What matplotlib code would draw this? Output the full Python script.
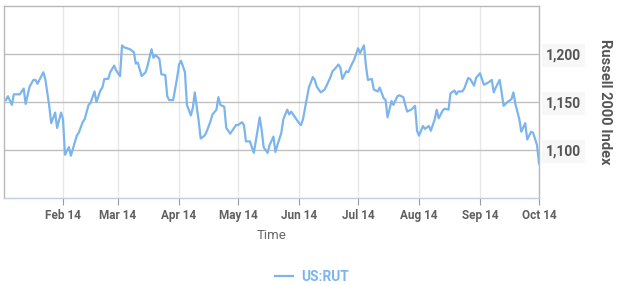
import matplotlib
matplotlib.use("Agg")
import matplotlib.pyplot as plt
import matplotlib.dates as mdates
import numpy as np
import pandas as pd

# day of year 2014 (Jan 1 = 1) and Russell 2000 close
day_of_year = [
    3, 4, 6, 7, 10, 12, 13, 15, 17, 18, 19, 21, 22, 23, 25, 26, 28, 29, 31, 32,
    33, 35, 36, 39, 40, 42, 43, 45, 46, 48, 49, 51, 52, 53, 55, 56, 58, 59, 61, 62,
    63, 66, 68, 69, 70, 72, 74, 75, 77, 78, 79, 81, 82, 84, 85, 86, 88, 90, 91, 92,
    94, 95, 97, 98, 99, 101, 102, 104, 105, 107, 108, 110, 111, 112, 114, 115, 117, 118, 120, 121,
    123, 124, 125, 127, 129, 130, 132, 133, 134, 136, 137, 139, 140, 141, 143, 144, 146, 147, 148, 150,
    152, 153, 154, 156, 157, 159, 160, 161, 163, 165, 166, 168, 169, 170, 172, 173, 174, 176, 177, 179,
    180, 182, 183, 185, 186, 187, 189, 190, 192, 193, 195, 196, 197, 199, 200, 202, 203, 205, 206, 207,
    209, 211, 212, 213, 215, 216, 218, 219, 221, 222, 223, 225, 226, 228, 229, 231, 232, 233, 235, 236,
    238, 239, 241, 242, 244, 245, 246, 248, 250, 251, 252, 254, 255, 256, 258, 260, 261, 262, 264, 265,
    267, 268, 270, 271, 273, 274,
]
rut_close = [
    1152, 1156, 1147, 1158, 1158, 1164, 1148, 1166, 1173, 1173, 1169, 1177, 1181, 1174, 1146, 1128, 1139, 1123, 1139, 1132,
    1095, 1103, 1094, 1115, 1118, 1129, 1132, 1147, 1149, 1161, 1150, 1162, 1165, 1174, 1174, 1181, 1188, 1183, 1177, 1209,
    1207, 1205, 1202, 1190, 1191, 1177, 1181, 1188, 1205, 1196, 1199, 1195, 1179, 1178, 1156, 1152, 1152, 1175, 1189, 1193,
    1181, 1147, 1136, 1144, 1160, 1130, 1112, 1115, 1119, 1130, 1137, 1142, 1155, 1147, 1145, 1123, 1117, 1120, 1126, 1126,
    1129, 1126, 1109, 1109, 1097, 1109, 1134, 1121, 1103, 1097, 1105, 1114, 1098, 1105, 1118, 1132, 1142, 1137, 1140, 1134,
    1128, 1126, 1132, 1154, 1165, 1176, 1173, 1166, 1160, 1163, 1167, 1176, 1182, 1184, 1189, 1186, 1174, 1182, 1181, 1190,
    1194, 1206, 1201, 1209, 1188, 1173, 1174, 1163, 1161, 1165, 1154, 1152, 1134, 1151, 1147, 1156, 1157, 1155, 1147, 1140,
    1142, 1146, 1120, 1115, 1125, 1122, 1125, 1120, 1132, 1142, 1133, 1141, 1143, 1142, 1159, 1162, 1158, 1161, 1161, 1164,
    1175, 1174, 1167, 1175, 1180, 1174, 1168, 1170, 1173, 1160, 1165, 1173, 1160, 1146, 1150, 1153, 1160, 1148, 1132, 1119,
    1128, 1111, 1119, 1118, 1105, 1086,
]
y_ticks = [1100, 1150, 1200]
series_name = "US:RUT"

dates = pd.Timestamp("2014-01-01") + pd.to_timedelta(np.array(day_of_year) - 1, unit="D")

plt.rcParams["font.family"] = ["Roboto", "DejaVu Sans"]

fig = plt.figure(figsize=(6.19, 2.85), dpi=100)
ax = fig.add_axes([4 / 619, 1 - 198 / 285, 535 / 619, 192 / 285])

ax.plot(dates, rut_close, color="#7cb5ec", linewidth=1.6, solid_joinstyle="round")

ax.set_xlim(pd.Timestamp("2014-01-02"), pd.Timestamp("2014-10-01"))
ax.set_ylim(1050, 1250)

ax.xaxis.set_major_locator(mdates.MonthLocator(bymonth=range(2, 11)))
ax.xaxis.set_major_formatter(mdates.DateFormatter("%b %y"))
ax.grid(axis="x", color="#e6e6e6", linewidth=0.9)
ax.set_yticks(y_ticks)
ax.grid(axis="y", color="#c0c0c0", linewidth=1.0)
ax.set_axisbelow(True)

ax.yaxis.tick_right()
ax.tick_params(axis="y", length=0, pad=5, labelsize=10, labelcolor="#555555")
ax.set_yticklabels([f"{v:,}" for v in y_ticks], fontweight="bold")
for lab in ax.get_yticklabels():
    lab.set_bbox(dict(facecolor="#f7f7f7", edgecolor="none", pad=3))
ax.tick_params(axis="x", length=5, color="#999999", pad=3, labelsize=8.5, labelcolor="#606060")
for lab in ax.get_xticklabels():
    lab.set_fontweight("bold")

for side in ["top", "left", "right"]:
    ax.spines[side].set_color("#b8b8b8")
    ax.spines[side].set_linewidth(1.0)
ax.spines["bottom"].set_color("#c0d0e0")
ax.spines["bottom"].set_linewidth(1.0)

ax.set_xlabel("Time", fontsize=9.5, color="#666666", labelpad=5)
ax.yaxis.set_label_position("right")
ax.set_ylabel("Russell 2000 Index", fontsize=10.5, fontweight="bold", color="#555555",
              rotation=270, labelpad=12, va="bottom")

leg = fig.legend([ax.lines[0]], [series_name], loc="center", bbox_to_anchor=(312 / 619, 1 - 277 / 285),
                 frameon=False, fontsize=10, handlelength=1.3, handletextpad=0.6)
for t in leg.get_texts():
    t.set_color("#7cb5ec")
    t.set_fontweight("bold")

fig.savefig("out.png", dpi=100)
